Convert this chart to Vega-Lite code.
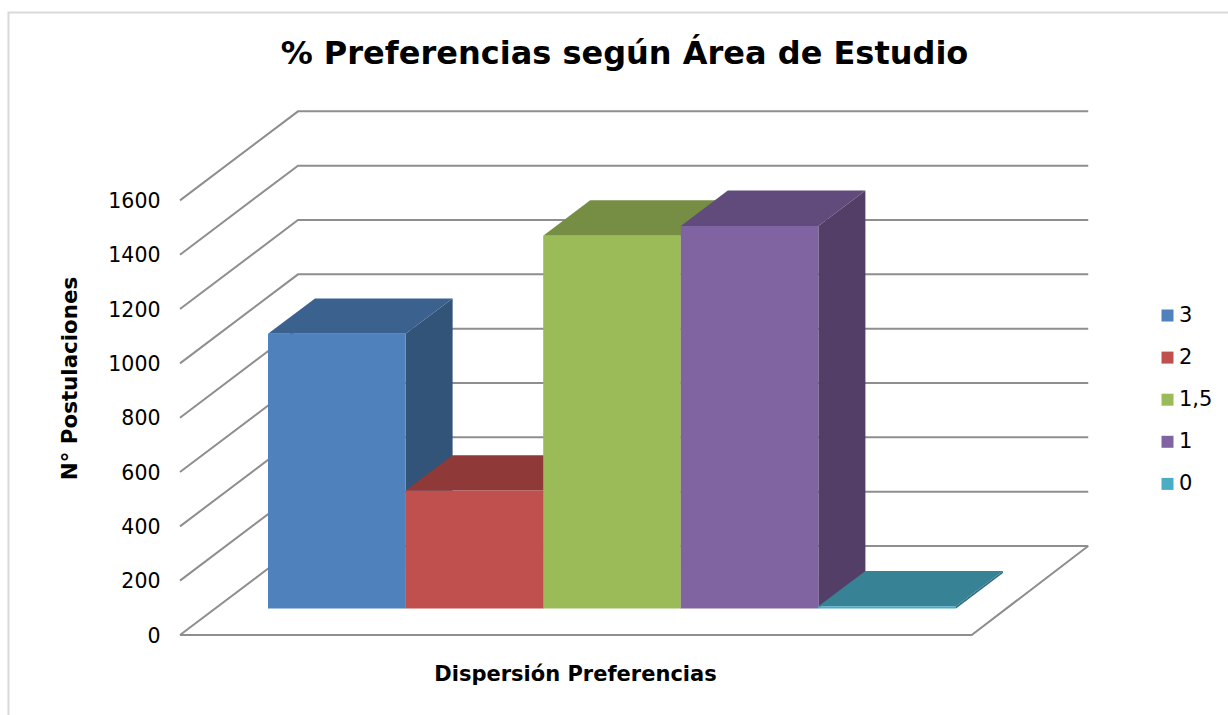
{
  "$schema": "https://vega.github.io/schema/vega-lite/v6.json",
  "width": 909,
  "height": 524,
  "autosize": {"type": "none"},
  "padding": {"left": 180, "top": 111, "right": 139, "bottom": 80},
  "background": "white",
  "config": {"view": {"stroke": null}, "font": "DejaVu Sans"},
  "title": {"text": "% Preferencias según Área de Estudio", "font": "DejaVu Sans", "fontSize": 32, "fontWeight": "bold", "color": "#000000", "anchor": "middle", "dx": -10, "offset": -63},
  "datasets": {
    "barras": [
      {"dispersion": "3", "postulaciones": 1011},
      {"dispersion": "2", "postulaciones": 434},
      {"dispersion": "1,5", "postulaciones": 1372},
      {"dispersion": "1", "postulaciones": 1408},
      {"dispersion": "0", "postulaciones": 8}
    ],
    "marcas": [
      {"marca": 0}, {"marca": 200}, {"marca": 400}, {"marca": 600}, {"marca": 800},
      {"marca": 1000}, {"marca": 1200}, {"marca": 1400}, {"marca": 1600}
    ]
  },
  "encoding": {
    "x": {
      "field": "px", "type": "quantitative",
      "scale": {"domain": [-0.6395, 5.9666], "nice": false, "zero": false},
      "axis": {"title": "Dispersión Preferencias", "labels": false, "ticks": false, "domain": false, "grid": false, "titleFont": "DejaVu Sans", "titleFontSize": 21, "titleFontWeight": "bold", "titleColor": "#000000", "titleX": 395, "titleY": 39, "titleBaseline": "middle"}
    },
    "y": {
      "field": "py", "type": "quantitative",
      "scale": {"domain": [0, 1929], "nice": false, "zero": false},
      "axis": {"title": "N° Postulaciones", "values": [0, 200, 400, 600, 800, 1000, 1200, 1400, 1600], "format": "d", "ticks": false, "domain": false, "grid": false, "labelFont": "DejaVu Sans", "labelFontSize": 20.5, "labelColor": "#000000", "labelPadding": 20, "labelOffset": 1, "titleFont": "DejaVu Sans", "titleFontSize": 21.4, "titleFontWeight": "bold", "titleColor": "#000000", "titleX": -110, "titleY": 267, "titleAngle": -90, "titleBaseline": "middle", "titleAlign": "center"}
    }
  },
  "layer": [
    {
      "data": {"values": [{"borde": "marco"}]},
      "transform": [
        {"calculate": "[0,1,2]", "as": "p"},
        {"flatten": ["p"]},
        {"calculate": "[-1.886,-1.886,6.977][datum.p]", "as": "px"},
        {"calculate": "[-294.6,2292,2292][datum.p]", "as": "py"}
      ],
      "mark": {"type": "line", "color": "#d9d9d9", "strokeWidth": 2, "clip": false},
      "encoding": {"order": {"field": "p", "type": "ordinal"}}
    },
    {
      "data": {"name": "marcas"},
      "transform": [
        {"calculate": "[0,1,2]", "as": "p"},
        {"flatten": ["p"]},
        {"calculate": "[-0.6395,0.218,5.961][datum.p]", "as": "px"},
        {"calculate": "datum.marca + [0,327.7,327.7][datum.p]", "as": "py"}
      ],
      "mark": {"type": "line", "color": "#8e8e8e", "strokeWidth": 2, "clip": false},
      "encoding": {"detail": {"field": "marca"}, "order": {"field": "p", "type": "ordinal"}}
    },
    {
      "data": {"values": [{"marca": 0}]},
      "transform": [
        {"calculate": "[0,1,2]", "as": "p"},
        {"flatten": ["p"]},
        {"calculate": "[-0.6395,5.114,5.961][datum.p]", "as": "px"},
        {"calculate": "datum.marca + [0,0,327.7][datum.p]", "as": "py"}
      ],
      "mark": {"type": "line", "color": "#8e8e8e", "strokeWidth": 2, "clip": false},
      "encoding": {"order": {"field": "p", "type": "ordinal"}}
    },
    {
      "data": {"name": "barras"},
      "transform": [
        {"calculate": "indexof(['3','2','1,5','1','0'], datum.dispersion)", "as": "i"},
        {"calculate": "[0,1,2,3]", "as": "c"},
        {"flatten": ["c"]},
        {"calculate": "datum.i + 1 + [0,0,0.3416,0.3416][datum.c]", "as": "px"},
        {"calculate": "98 + [0,datum.postulaciones,datum.postulaciones+130,130][datum.c]", "as": "py"}
      ],
      "mark": {"type": "line", "strokeWidth": 0, "clip": false},
      "encoding": {
        "fill": {"field": "dispersion", "type": "nominal", "legend": null, "scale": {"domain": ["3", "2", "1,5", "1", "0"], "range": ["#325479", "#7b3331", "#637838", "#523e66", "#2f6e80"]}},
        "order": {"field": "c", "type": "ordinal"}
      }
    },
    {
      "data": {"name": "barras"},
      "transform": [
        {"calculate": "indexof(['3','2','1,5','1','0'], datum.dispersion)", "as": "i"},
        {"calculate": "[0,1,2,3]", "as": "c"},
        {"flatten": ["c"]},
        {"calculate": "datum.i + [0,1,1.3416,0.3416][datum.c]", "as": "px"},
        {"calculate": "98 + datum.postulaciones + [0,0,130,130][datum.c]", "as": "py"}
      ],
      "mark": {"type": "line", "strokeWidth": 0, "clip": false},
      "encoding": {
        "fill": {"field": "dispersion", "type": "nominal", "legend": null, "scale": {"domain": ["3", "2", "1,5", "1", "0"], "range": ["#3b618f", "#8f3a38", "#768e43", "#614b7c", "#388296"]}},
        "order": {"field": "c", "type": "ordinal"}
      }
    },
    {
      "data": {"name": "barras"},
      "transform": [
        {"calculate": "indexof(['3','2','1,5','1','0'], datum.dispersion)", "as": "px"},
        {"calculate": "datum.px + 1", "as": "px2"},
        {"calculate": "98 + datum.postulaciones", "as": "py"},
        {"calculate": "98", "as": "py0"}
      ],
      "mark": {"type": "rect", "clip": false},
      "encoding": {
        "x2": {"field": "px2"},
        "y2": {"field": "py0"},
        "fill": {
          "field": "dispersion", "type": "nominal",
          "scale": {"domain": ["3", "2", "1,5", "1", "0"], "range": ["#4f81bd", "#c0504d", "#9bbb59", "#8064a2", "#4bacc6"]},
          "legend": {"title": null, "orient": "none", "legendX": 977, "legendY": 194, "symbolType": "square", "symbolSize": 144, "symbolStrokeWidth": 0, "labelFont": "DejaVu Sans", "labelFontSize": 21, "labelColor": "#000000", "rowPadding": 20.1, "labelOffset": 1}
        }
      }
    }
  ],
  "resolve": {"scale": {"fill": "independent"}}
}
